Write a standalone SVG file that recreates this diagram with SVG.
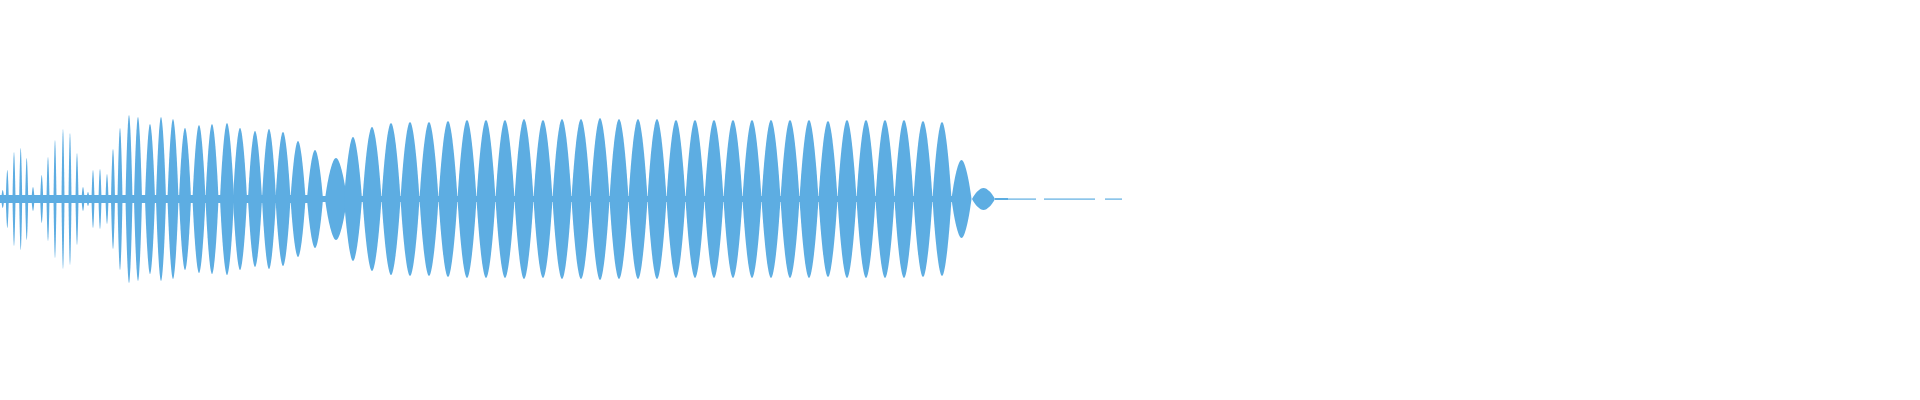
<svg xmlns="http://www.w3.org/2000/svg" xmlns:xlink="http://www.w3.org/1999/xlink" width="1920" height="400" viewBox="0 0 1920 400">
<style>.w{fill:#5dade2}</style>
<defs><path id="L" class="w" d="M-0.5 0C-0.36 -0.55 -0.16 -1 0 -1C0.16 -1 0.36 -0.55 0.5 0C0.36 0.55 0.16 1 0 1C-0.16 1 -0.36 0.55 -0.5 0Z"/></defs>
<rect width="1920" height="400" fill="#fff"/>
<g id="wave" class="w">
<rect x="0" y="195" width="320" height="8"/>
<rect x="320" y="196" width="632" height="6"/>
<use xlink:href="#L" transform="translate(2.7,199) scale(3,9)"/>
<use xlink:href="#L" transform="translate(7.3,199) scale(3,29)"/>
<use xlink:href="#L" transform="translate(14,199) scale(3,47)"/>
<use xlink:href="#L" transform="translate(20.7,199) scale(3,51)"/>
<use xlink:href="#L" transform="translate(26.7,199) scale(3,41)"/>
<use xlink:href="#L" transform="translate(33,199) scale(3,12)"/>
<use xlink:href="#L" transform="translate(41.7,199) scale(3,24)"/>
<use xlink:href="#L" transform="translate(48,199) scale(3,42)"/>
<use xlink:href="#L" transform="translate(55,199) scale(3,59)"/>
<use xlink:href="#L" transform="translate(63,199) scale(3,70)"/>
<use xlink:href="#L" transform="translate(70,199) scale(3,66)"/>
<use xlink:href="#L" transform="translate(77,199) scale(3,46)"/>
<use xlink:href="#L" transform="translate(83,199) scale(3,12)"/>
<use xlink:href="#L" transform="translate(88,199) scale(3,7)"/>
<use xlink:href="#L" transform="translate(93,199) scale(3,29)"/>
<use xlink:href="#L" transform="translate(100,199) scale(3,30)"/>
<use xlink:href="#L" transform="translate(107,199) scale(3,25)"/>
<use xlink:href="#L" transform="translate(113,199) scale(4,50)"/>
<use xlink:href="#L" transform="translate(120,199) scale(5,71)"/>
<use xlink:href="#L" transform="translate(129,199) scale(7,84)"/>
<use xlink:href="#L" transform="translate(138,199) scale(8,82)"/>
<use xlink:href="#L" transform="translate(150,199) scale(10,75)"/>
<use xlink:href="#L" transform="translate(161,199) scale(10,82)"/>
<use xlink:href="#L" transform="translate(173,199) scale(11,80)"/>
<use xlink:href="#L" transform="translate(185,199) scale(12,71)"/>
<use xlink:href="#L" transform="translate(199,199) scale(13,74)"/>
<use xlink:href="#L" transform="translate(212,199) scale(13,75)"/>
<use xlink:href="#L" transform="translate(227,199) scale(14,76)"/>
<use xlink:href="#L" transform="translate(240,199) scale(14,71)"/>
<use xlink:href="#L" transform="translate(255,199) scale(14,68)"/>
<use xlink:href="#L" transform="translate(269,199) scale(14,70)"/>
<use xlink:href="#L" transform="translate(283,199) scale(15,67)"/>
<use xlink:href="#L" transform="translate(298,199) scale(15,58)"/>
<use xlink:href="#L" transform="translate(315,199) scale(16,49)"/>
<use xlink:href="#L" transform="translate(336,199) scale(22,41)"/>
<use xlink:href="#L" transform="translate(353,199) scale(18,62)"/>
<use xlink:href="#L" transform="translate(372,199) scale(19,72)"/>
<use xlink:href="#L" transform="translate(391,199) scale(19,76)"/>
<use xlink:href="#L" transform="translate(410,199) scale(19,77)"/>
<use xlink:href="#L" transform="translate(429,199) scale(19,77)"/>
<use xlink:href="#L" transform="translate(448,199) scale(19,78)"/>
<use xlink:href="#L" transform="translate(467,199) scale(19,79)"/>
<use xlink:href="#L" transform="translate(486,199) scale(19,79)"/>
<use xlink:href="#L" transform="translate(505,199) scale(19,79)"/>
<use xlink:href="#L" transform="translate(524,199) scale(19,80)"/>
<use xlink:href="#L" transform="translate(543,199) scale(19,79)"/>
<use xlink:href="#L" transform="translate(562,199) scale(19,80)"/>
<use xlink:href="#L" transform="translate(581,199) scale(19,80)"/>
<use xlink:href="#L" transform="translate(600,199) scale(19,81)"/>
<use xlink:href="#L" transform="translate(619,199) scale(19,80)"/>
<use xlink:href="#L" transform="translate(638,199) scale(19,80)"/>
<use xlink:href="#L" transform="translate(657,199) scale(19,80)"/>
<use xlink:href="#L" transform="translate(676,199) scale(19,79)"/>
<use xlink:href="#L" transform="translate(695,199) scale(19,79)"/>
<use xlink:href="#L" transform="translate(714,199) scale(19,79)"/>
<use xlink:href="#L" transform="translate(733,199) scale(19,79)"/>
<use xlink:href="#L" transform="translate(752,199) scale(19,79)"/>
<use xlink:href="#L" transform="translate(771,199) scale(19,79)"/>
<use xlink:href="#L" transform="translate(790,199) scale(19,79)"/>
<use xlink:href="#L" transform="translate(809,199) scale(19,79)"/>
<use xlink:href="#L" transform="translate(828,199) scale(19,78)"/>
<use xlink:href="#L" transform="translate(847,199) scale(19,79)"/>
<use xlink:href="#L" transform="translate(866,199) scale(19,79)"/>
<use xlink:href="#L" transform="translate(885,199) scale(19,79)"/>
<use xlink:href="#L" transform="translate(904,199) scale(19,79)"/>
<use xlink:href="#L" transform="translate(923,199) scale(19,78)"/>
<use xlink:href="#L" transform="translate(942,199) scale(19,77)"/>
<use xlink:href="#L" transform="translate(961.5,199) scale(20,39)"/>
<use xlink:href="#L" transform="translate(983.5,199) scale(23,11)"/>
<rect x="995" y="198" width="13" height="2"/>
<rect x="996" y="198.5" width="40" height="1.2"/>
<rect x="1044" y="198.5" width="51" height="1.2"/>
<rect x="1105" y="198.5" width="17" height="1.2"/>
</g>
</svg>
